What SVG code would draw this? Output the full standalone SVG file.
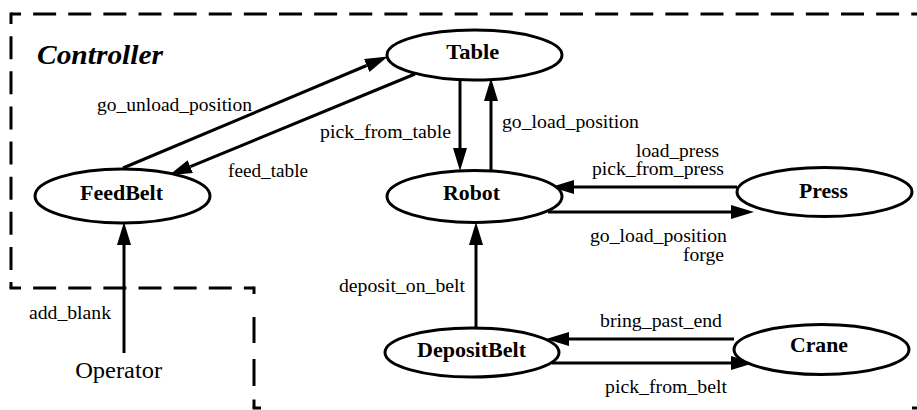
<svg xmlns="http://www.w3.org/2000/svg" width="917" height="410" viewBox="0 0 917 410">
<style>
.node ellipse{fill:#fff;stroke:#000;stroke-width:3}
text{font-family:"Liberation Serif","Times New Roman",Times,serif;fill:#000}
.nl{font-weight:bold;font-size:21px;text-anchor:middle}
.el{font-size:18.5px;text-anchor:middle}
.edge{stroke:#000;stroke-width:3;fill:none}
.border{stroke:#000;stroke-width:3;fill:none}
</style>
<defs>
<marker id="ah" markerUnits="userSpaceOnUse" markerWidth="24" markerHeight="16" refX="0" refY="7" orient="auto">
<path d="M0,0 L23,7 L0,14 z" fill="#000"/>
</marker>
</defs>
<rect width="917" height="410" fill="#fff"/>
<g id="cluster-controller">
<line class="border" x1="11" y1="14" x2="930" y2="14" stroke-dasharray="23 12.125" stroke-dashoffset="13"/>
<line class="border" x1="11" y1="12.5" x2="11" y2="288" stroke-dasharray="23 12.125" stroke-dashoffset="11.5"/>
<line class="border" x1="9.5" y1="288" x2="254" y2="288" stroke-dasharray="23 12.125" stroke-dashoffset="11.5"/>
<line class="border" x1="254" y1="286.5" x2="254" y2="408" stroke-dasharray="7.5 23 26 16 27 13.5 8"/>
<line class="border" x1="252.5" y1="408" x2="261" y2="408"/>
<line class="border" x1="912" y1="408" x2="917" y2="408"/>
<text x="37" y="64" font-weight="bold" font-style="italic" font-size="28" textLength="126" lengthAdjust="spacingAndGlyphs">Controller</text>
</g>
<g id="edges">
<line class="edge" x1="123" y1="168" x2="366.7" y2="65.5" marker-end="url(#ah)"/>
<text class="el" x="174.5" y="111" textLength="155" lengthAdjust="spacingAndGlyphs">go_unload_position</text>
<line class="edge" x1="415" y1="74" x2="190.3" y2="166.6" marker-end="url(#ah)"/>
<text class="el" x="268" y="177" textLength="80" lengthAdjust="spacingAndGlyphs">feed_table</text>
<line class="edge" x1="460" y1="80" x2="460" y2="148" marker-end="url(#ah)"/>
<text class="el" x="385.5" y="138" textLength="131" lengthAdjust="spacingAndGlyphs">pick_from_table</text>
<line class="edge" x1="491" y1="170" x2="491" y2="101" marker-end="url(#ah)"/>
<text class="el" x="570.5" y="128" textLength="137" lengthAdjust="spacingAndGlyphs">go_load_position</text>
<line class="edge" x1="737" y1="187" x2="574" y2="187" marker-end="url(#ah)"/>
<text class="el" x="677.5" y="156.5" textLength="83" lengthAdjust="spacingAndGlyphs">load_press</text>
<text class="el" x="658" y="175" textLength="132" lengthAdjust="spacingAndGlyphs">pick_from_press</text>
<line class="edge" x1="548" y1="212" x2="731" y2="212" marker-end="url(#ah)"/>
<text class="el" x="658.5" y="242" textLength="137" lengthAdjust="spacingAndGlyphs">go_load_position</text>
<text class="el" x="703.5" y="260.5" textLength="41" lengthAdjust="spacingAndGlyphs">forge</text>
<line class="edge" x1="476" y1="328" x2="476" y2="245" marker-end="url(#ah)"/>
<text class="el" x="402" y="292" textLength="126" lengthAdjust="spacingAndGlyphs">deposit_on_belt</text>
<line class="edge" x1="734" y1="339" x2="569" y2="339" marker-end="url(#ah)"/>
<text class="el" x="661" y="327" textLength="122" lengthAdjust="spacingAndGlyphs">bring_past_end</text>
<line class="edge" x1="552" y1="363" x2="731" y2="363" marker-end="url(#ah)"/>
<text class="el" x="666" y="393" textLength="122" lengthAdjust="spacingAndGlyphs">pick_from_belt</text>
<line class="edge" x1="124" y1="353" x2="124" y2="245" marker-end="url(#ah)"/>
<text class="el" x="70" y="319" textLength="82" lengthAdjust="spacingAndGlyphs">add_blank</text>
</g>
<g id="Table" class="node"><ellipse cx="474.5" cy="55" rx="87.5" ry="25"/><text class="nl" x="472.7" y="59" textLength="53" lengthAdjust="spacingAndGlyphs">Table</text></g>
<g id="Robot" class="node"><ellipse cx="474.5" cy="196.5" rx="87.5" ry="26"/><text class="nl" x="471.5" y="200" textLength="57" lengthAdjust="spacingAndGlyphs">Robot</text></g>
<g id="Press" class="node"><ellipse cx="824.5" cy="192" rx="87.5" ry="24.5"/><text class="nl" x="823.5" y="198" textLength="49" lengthAdjust="spacingAndGlyphs">Press</text></g>
<g id="FeedBelt" class="node"><ellipse cx="122.5" cy="196" rx="87.5" ry="27"/><text class="nl" x="121.5" y="200" textLength="83" lengthAdjust="spacingAndGlyphs">FeedBelt</text></g>
<g id="DepositBelt" class="node"><ellipse cx="472" cy="352.5" rx="87" ry="24.5"/><text class="nl" x="471.5" y="357" textLength="109" lengthAdjust="spacingAndGlyphs">DepositBelt</text></g>
<g id="Crane" class="node"><ellipse cx="821.5" cy="349.5" rx="87.5" ry="25"/><text class="nl" x="819" y="352" textLength="58" lengthAdjust="spacingAndGlyphs">Crane</text></g>
<g id="Operator"><text x="118.7" y="378" font-size="22.5" text-anchor="middle" textLength="87" lengthAdjust="spacingAndGlyphs">Operator</text></g>
</svg>
